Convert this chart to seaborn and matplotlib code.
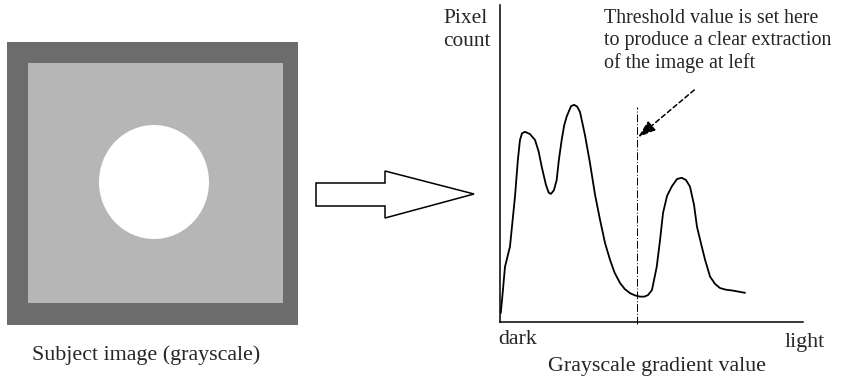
import matplotlib
matplotlib.use("Agg")
import matplotlib.pyplot as plt
from matplotlib.patches import Rectangle, Ellipse, Polygon
import numpy as np
import pandas as pd
import seaborn as sns

# ---- data: histogram curve (grayscale value 0-255, relative pixel count 0-100)
gray_values = [0.6, 1.7, 4.2, 8.4, 12.6, 15.0, 16.8, 18.5, 21.0, 25.2, 29.5, 32.5,
               35.1, 38.7, 41.0, 42.9, 45.4, 47.7, 49.5, 51.9, 54.0, 56.1, 59.8,
               62.3, 64.8, 67.3, 71.5, 75.7, 80.0, 84.2,
               88.4, 92.6, 96.5, 101.0, 105.0, 109.4, 113.5, 117.8, 121.5, 124.6,
               127.9, 131.9, 134.7, 137.2, 140.6, 144.8, 149.0, 152.9, 156.5,
               159.9, 163.3, 165.8, 169.8, 172.6, 176.8, 181.0, 185.2, 190.0,
               196.1, 206.2]
pixel_counts = [2.8, 6.9, 17.4, 23.8, 39.5, 51.0, 57.4, 59.5, 60.0, 59.3, 57.4, 53.8,
                49.0, 43.2, 40.8, 40.4, 41.6, 44.8, 51.0, 57.4, 62.0, 64.8, 68.1,
                68.5, 68.0, 66.3, 59.0, 50.2, 40.1, 32.2,
                24.9, 19.6, 15.5, 12.3, 10.4, 9.1, 8.4, 8.0, 8.0, 8.5,
                10.1, 17.4, 25.9, 34.4, 39.8, 42.9, 45.1, 45.5, 44.8,
                42.7, 36.9, 30.0, 23.8, 19.6, 14.3, 12.0, 10.7, 10.2,
                9.9, 9.2]
threshold_value = 115.5

x_labels = ["dark", "light"]
x_title = "Grayscale gradient value"
y_title = "Pixel\ncount"
note = "Threshold value is set here\nto produce a clear extraction\nof the image at left"
caption = "Subject image (grayscale)"

df = pd.DataFrame({"gray": gray_values, "count": pixel_counts})

sns.set_theme(style="white")
plt.rcParams["font.family"] = ["Liberation Serif", "DejaVu Serif"]

W, H = 856, 382
fig = plt.figure(figsize=(W / 100, H / 100), dpi=100)

# overlay axes in pixel coordinates
ax0 = fig.add_axes([0, 0, 1, 1])
ax0.set_xlim(0, W)
ax0.set_ylim(H, 0)
ax0.axis("off")

# subject image
ax0.add_patch(Rectangle((7, 42), 291, 283, facecolor="#6c6c6c", edgecolor="none"))
ax0.add_patch(Rectangle((28, 63), 255, 240, facecolor="#b6b6b6", edgecolor="none"))
ax0.add_patch(Ellipse((154, 182), 110, 114, facecolor="white", edgecolor="none"))
ax0.text(146, 355, caption, ha="center", va="center", fontsize=15.8)

# block arrow
ax0.add_patch(Polygon([(316, 183), (385, 183), (385, 171), (474, 194),
                       (385, 218), (385, 206), (316, 206)],
                      closed=True, facecolor="white", edgecolor="black", lw=1.1))

# histogram axes
hx0, hx1, hy0, hy1 = 500, 803, 5, 322
ax = fig.add_axes([hx0 / W, (H - hy1) / H, (hx1 - hx0) / W, (hy1 - hy0) / H])
ax.set_facecolor("none")
sns.lineplot(data=df, x="gray", y="count", ax=ax, color="black", lw=1.3,
             sort=False, estimator=None)
ax.set_xlim(0, 255)
ax.set_ylim(0, 100)
ax.set_xticks([])
ax.set_yticks([])
ax.set_xlabel("")
ax.set_ylabel("")
for s in ["top", "right"]:
    ax.spines[s].set_visible(False)
for s in ["left", "bottom"]:
    ax.spines[s].set_color("black")
    ax.spines[s].set_linewidth(1.1)

# threshold line
ax.plot([threshold_value, threshold_value], [-0.6, 67.9], color="black", lw=0.7,
        ls=(0, (8, 2, 1, 2)), clip_on=False)
ax.annotate("", xy=(threshold_value + 0.7, 58.3), xytext=(163.5, 73.2),
            arrowprops=dict(arrowstyle="-|>,head_length=0.9,head_width=0.3",
                            color="black", lw=1.1, ls=(0, (3, 2)),
                            shrinkA=0, shrinkB=0))

ax0.text(604, 41, note, ha="left", va="center", fontsize=14.4, linespacing=1.22)
ax0.text(443, 30, y_title, ha="left", va="center", fontsize=15.4, linespacing=1.3)
ax0.text(498, 339, x_labels[0], ha="left", va="center", fontsize=15.8)
ax0.text(825, 343, x_labels[1], ha="right", va="center", fontsize=15.8)
ax0.text(657, 366, x_title, ha="center", va="center", fontsize=15.8)

fig.savefig("out.png", dpi=100)
